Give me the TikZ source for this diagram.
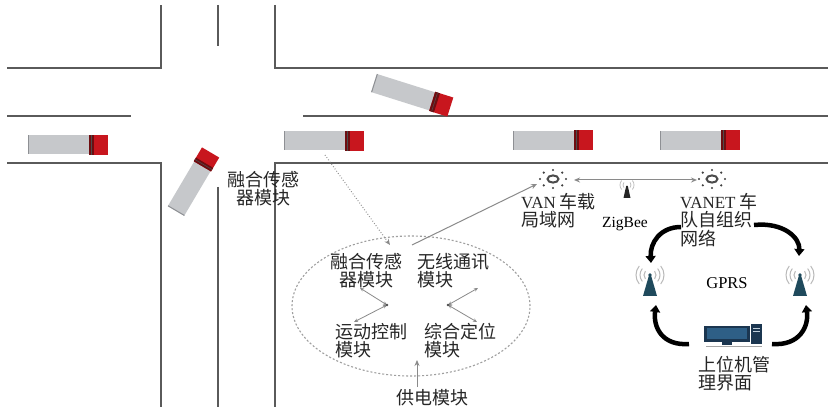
\documentclass[tikz,border=0pt]{standalone}
\usepackage{fontspec}
\setmainfont{Noto Sans CJK SC}
\newfontfamily\lat{Liberation Serif}
\usetikzlibrary{arrows.meta,shapes.geometric}

\definecolor{roadgray}{HTML}{5A5A5A}
\definecolor{bodygray}{HTML}{C6C8CB}
\definecolor{bodyedge}{HTML}{8E9094}
\definecolor{cabred}{HTML}{C8161E}
\definecolor{cabdark}{HTML}{6E0D10}
\definecolor{towerteal}{HTML}{1F4A5C}
\definecolor{pcnavy}{HTML}{1B3650}
\definecolor{pcblue}{HTML}{2E5F86}
\definecolor{linkgray}{HTML}{8A8A8A}

\newcommand\lblfont{\fontsize{18}{18.5}\selectfont}
\newcommand\latin[1]{{\lat\fontsize{17}{18.5}\selectfont #1}}

\tikzset{
  road/.style={draw=roadgray, line width=1.3},
  lbl/.style={font=\lblfont, inner sep=0pt, align=left, anchor=north west, text=black!85},
  link/.style={draw=linkgray, line width=0.8},
  tipS/.style={-{Stealth[length=6,width=5]}},
  cloudarrow/.style={line width=4.5, -{Triangle[width=10,length=7]}},
  truck/.pic={
    \fill[bodygray] (0,-9.5) rectangle (61,9.5);
    \draw[bodyedge, line width=1] (0.5,-9.5) -- (0.5,9.5);
    \fill[cabred] (61,-10) rectangle (80,10);
    \fill[cabdark] (61,-10) rectangle (66,10);
    \draw[black!70, line width=0.6] (63.5,-10) -- (63.5,10);
  },
  sunicon/.pic={
    \draw[gray!60!black, line width=2] (0,0) ellipse (5.5 and 3.6);
    \foreach \a in {0,45,...,315} \fill[gray!50!black] (\a:13 and 9) circle (1.2);
  },
  tower/.pic={
    \fill[towerteal] (-7,20) -- (7,20) -- (1.2,0) -- (-1.2,0) -- cycle;
    \fill[towerteal] (0,-1) circle (1.8);
    \foreach \r in {6,10,14} {
      \draw[gray!55, line width=1] ([shift={(-40:\r)}]0,-1) arc (-40:40:\r);
      \draw[gray!55, line width=1] ([shift={(140:\r)}]0,-1) arc (140:220:\r);
    }
  },
  minitower/.pic={
    \fill[black!85] (-3.5,12) -- (3.5,12) -- (0.8,0) -- (-0.8,0) -- cycle;
    \foreach \r in {4,7} {
      \draw[gray!50, line width=0.8] ([shift={(-40:\r)}]0,-1) arc (-40:40:\r);
      \draw[gray!50, line width=0.8] ([shift={(140:\r)}]0,-1) arc (140:220:\r);
    }
  },
  computer/.pic={
    \fill[pcnavy] (0,0) rectangle (46,16);
    \fill[pcblue] (3,2.5) rectangle (43,13.5);
    \fill[pcnavy] (47,-2) rectangle (58,18);
    \draw[white!70!pcblue, line width=0.6] (49,2) -- (56,2) (49,5) -- (56,5);
    \fill[pcnavy] (18,16) rectangle (28,19);
    \draw[gray!70, line width=1.2] (2,20.5) -- (58,20.5);
  }
}

\begin{document}
\begin{tikzpicture}[x=1pt,y=-1pt]
\useasboundingbox (0,0) rectangle (828,414);
\fill[white] (0,0) rectangle (828,414);

% roads
\draw[road] (7,68) -- (161,68) -- (161,5);
\draw[road] (275,5) -- (275,68) -- (828,68);
\draw[road] (218,5) -- (218,46);
\draw[road] (7,116) -- (131,116);
\draw[road] (303,116) -- (828,116);
\draw[road] (7,163) -- (161,163) -- (161,407);
\draw[road] (828,163) -- (275,163) -- (275,407);
\draw[road] (218,187) -- (218,407);

% vehicles
\pic at (28,145) {truck};
\pic[rotate=59.4, xscale=0.85] at (176,211) {truck};
\pic[rotate=-17.5] at (374,83) {truck};
\pic at (284,141) {truck};
\pic at (513,140.5) {truck};
\pic at (660,140.5) {truck};

% sensor label on the road
\node[lbl, align=center, anchor=north] (roadsensor) at (263,171) {融合传感\\器模块};

% on-board module cluster
\node[draw=gray!75, dash pattern=on 2pt off 2pt, line width=1.1, ellipse,
      minimum width=238, minimum height=140] (ring) at (411,306) {};
\node[lbl, align=center, anchor=north] (fusion) at (366,253) {融合传感\\器模块};
\node[lbl] (wireless) at (417,253) {无线通讯\\模块};
\node[lbl] (motion) at (335,323) {运动控制\\模块};
\node[lbl] (locate) at (424,323) {综合定位\\模块};
\node[lbl, anchor=north] (power) at (432,389) {供电模块};

\coordinate (vL) at (387,305);
\coordinate (vLa) at (360,288);
\coordinate (vLb) at (354,322);
\coordinate (vR) at (448,305);
\coordinate (vRa) at (478,288);
\coordinate (vRb) at (477,322);
\draw[link, {Stealth[length=4,width=3.5]}-{Stealth[length=4,width=3.5]}] (vLa) -- (vL);
\draw[link, {Stealth[length=4,width=3.5]}-{Stealth[length=4,width=3.5]}] (vL) -- (vLb);
\draw[link, {Stealth[length=4,width=3.5]}-{Stealth[length=4,width=3.5]}] (vRa) -- (vR);
\draw[link, {Stealth[length=4,width=3.5]}-{Stealth[length=4,width=3.5]}] (vR) -- (vRb);
\fill[gray!60!black] (vL) circle (1.3) (vR) circle (1.3);

\coordinate (powtop) at (417,360);
\coordinate (powbot) at (417,387);
\draw[link, tipS] (powbot) -- (powtop);

% links from the vehicle
\coordinate (truckpt) at (325,155);
\coordinate (ringin) at (390,245);
\draw[link, dotted, line width=1, tipS] (truckpt) -- (ringin);

\pic (vanicon) at (553,179) {sunicon};
\pic (vaneticon) at (712,179) {sunicon};
\coordinate (ringout) at (412,245);
\coordinate (vanin) at (537,184);
\draw[link, line width=1, tipS] (ringout) -- (vanin);
\coordinate (vanR) at (574,180);
\coordinate (vanetL) at (697,180);
\draw[link, line width=1, {Stealth[length=6,width=5]}-{Stealth[length=6,width=5]}] (vanR) -- (vanetL);

\node[lbl] (vanlbl) at (521,193) {\latin{VAN} 车载\\局域网};
\pic at (627,186) {minitower};
\node[font=\fontsize{15.5}{18}\lat, inner sep=0pt, anchor=base] (zigbee) at (625,228) {ZigBee};
\node[lbl] (vanetlbl) at (680,193) {\latin{VANET} 车\\队自组织\\网络};

% GPRS loop
\pic (ltower) at (650,276) {tower};
\pic (rtower) at (800,276) {tower};
\node[font=\fontsize{16.5}{18}\lat, inner sep=0pt] (gprs) at (727,283) {GPRS};
\pic (pc) at (704,326) {computer};
\node[lbl] (hostlbl) at (698,356) {上位机管\\理界面};

\coordinate (c1s) at (681,227);
\coordinate (c1e) at (651,263);
\coordinate (c2s) at (754,225);
\coordinate (c2e) at (799,256);
\coordinate (c3s) at (689,344);
\coordinate (c3e) at (656,305);
\coordinate (c4s) at (772,344);
\coordinate (c4e) at (806,305);
\draw[cloudarrow] (c1s) .. controls (660,227) and (650,243) .. (c1e);
\draw[cloudarrow] (c2s) .. controls (784,222) and (800,238) .. (c2e);
\draw[cloudarrow] (c3s) .. controls (662,346) and (653,327) .. (c3e);
\draw[cloudarrow] (c4s) .. controls (800,346) and (809,326) .. (c4e);
\end{tikzpicture}
\end{document}
